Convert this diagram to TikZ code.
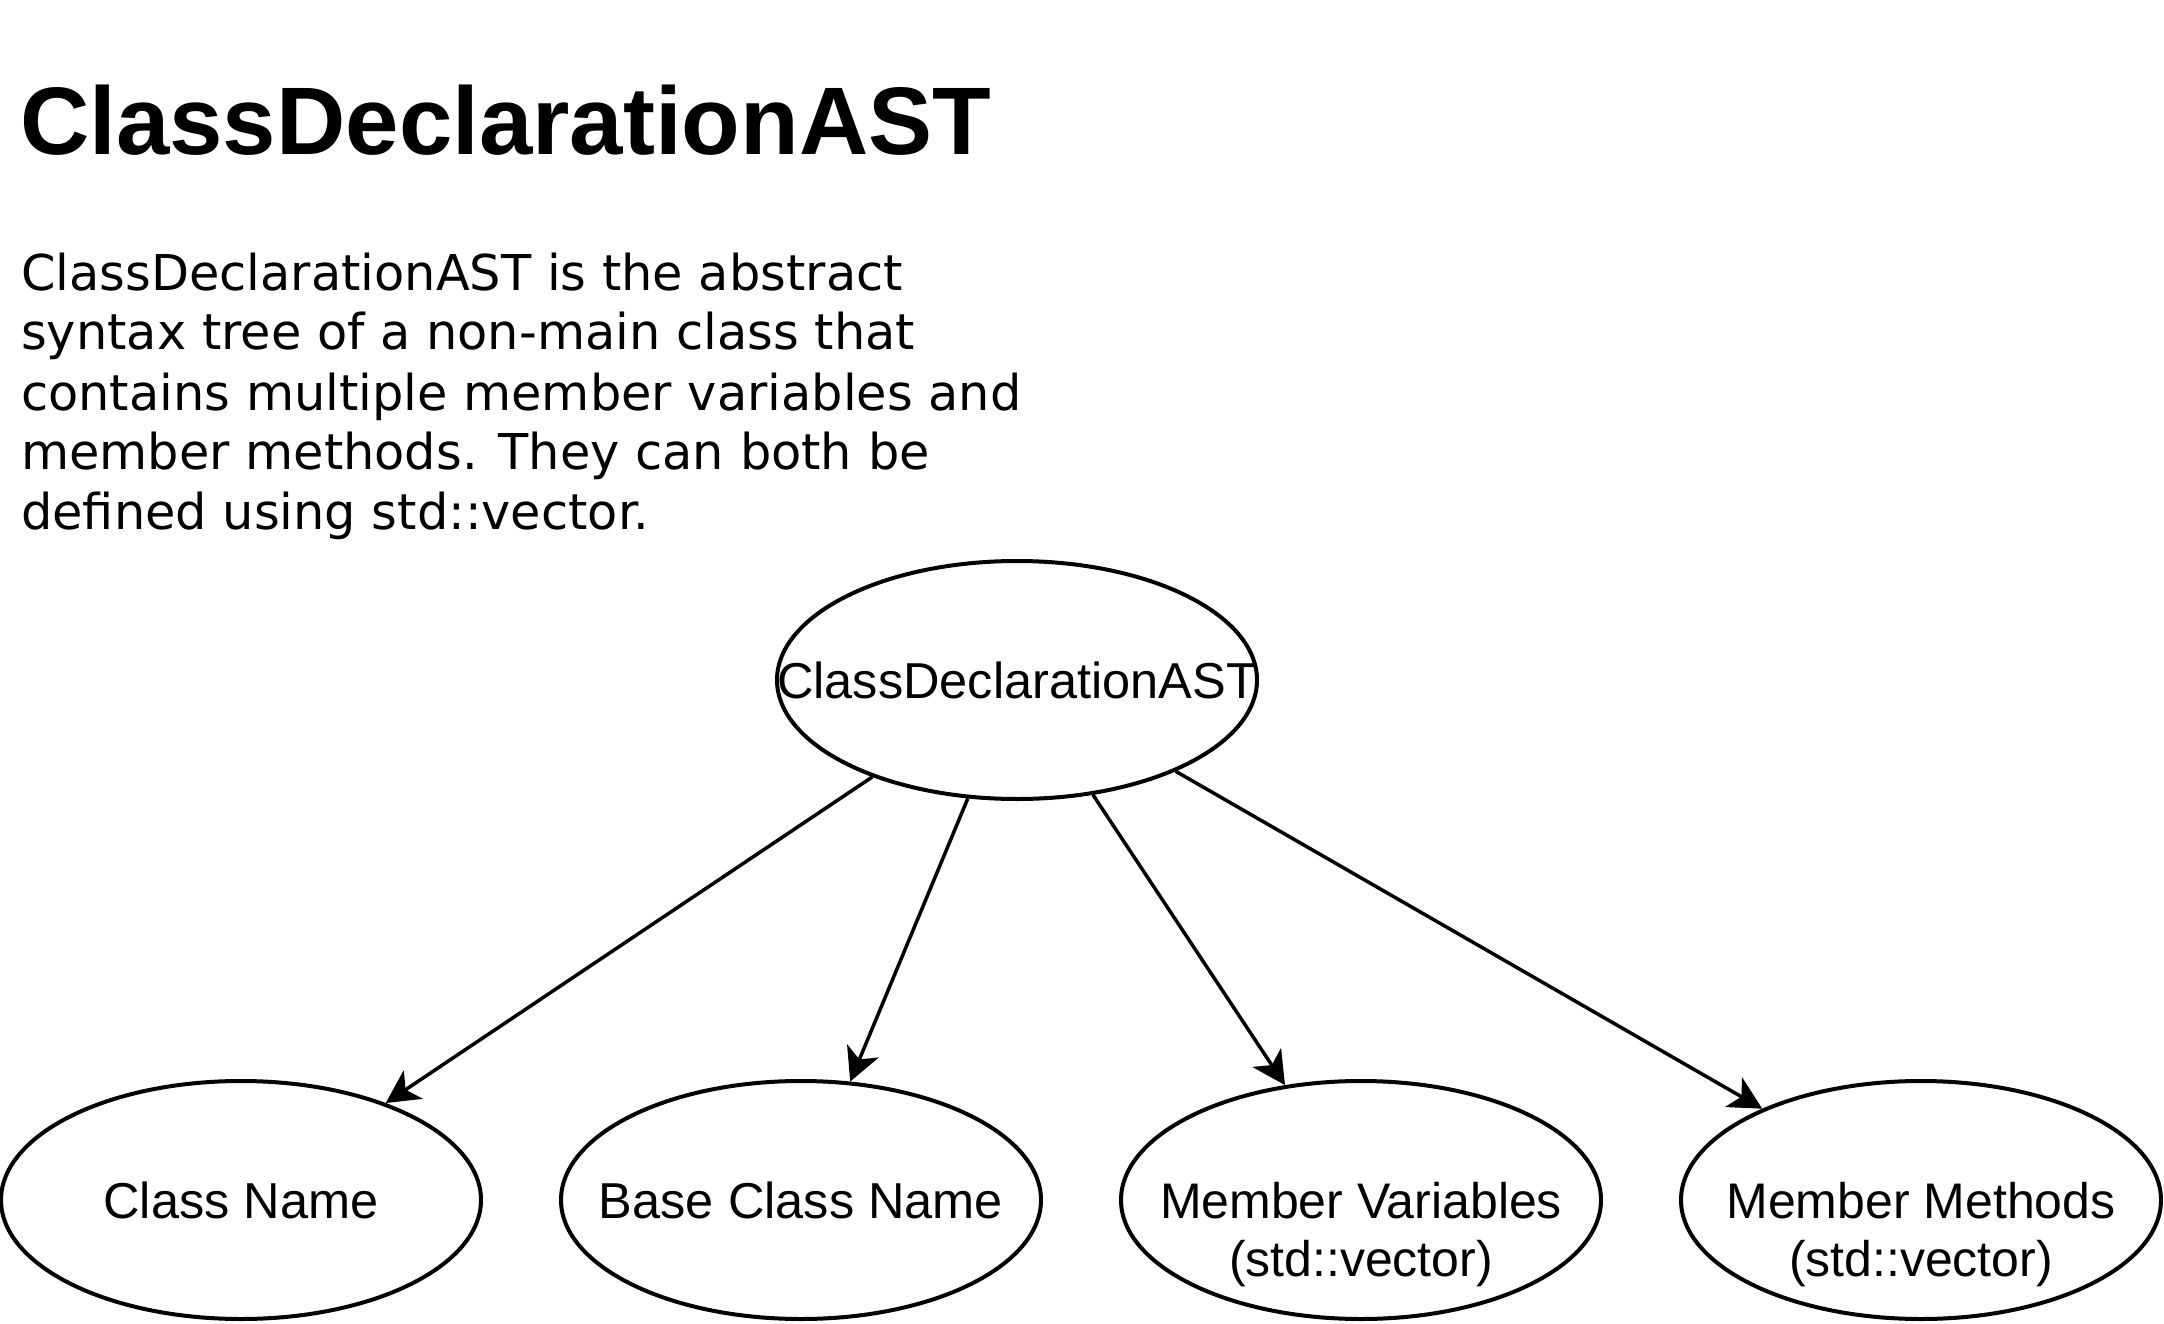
\documentclass[tikz,border=0pt]{standalone}
\usepackage{fontspec}
\setmainfont{Liberation Sans}
\newfontfamily\parafont{DejaVu Sans}
\usetikzlibrary{shapes.geometric,arrows.meta}
\begin{document}
\begin{tikzpicture}[x=1pt,y=-1pt,
  oval/.style={ellipse, draw=black, line width=4pt, minimum width=480pt, minimum height=238pt, inner sep=0pt, font=\fontsize{50.5}{58}\selectfont},
  lbl/.style={inner sep=0pt, align=center, font=\fontsize{50}{58}\selectfont},
  para/.style={anchor=base west, inner sep=0pt, font=\parafont\fontsize{49.4}{59}\selectfont},
  edge/.style={line width=3.5pt, -{Stealth[length=33pt,width=34pt,inset=9pt]}}]
\path[use as bounding box, fill=white] (0,0) rectangle (2164,1324);
\node[anchor=base west, inner sep=0pt, font=\bfseries\fontsize{96}{110}\selectfont] (title) at (20,155) {ClassDeclarationAST};
\node[para] (p1) at (21,291) {ClassDeclarationAST is the abstract};
\node[para] (p2) at (21,350) {syntax tree of a non-main class that};
\node[para] (p3) at (21,410) {contains multiple member variables and};
\node[para] (p4) at (21,469) {member methods. They can both be};
\node[para] (p5) at (21,529) {defined using std::vector.};
\node[oval] (root) at (1017,680) {\makebox[0pt]{ClassDeclarationAST}};
\node[oval] (cn) at (241,1200) {\makebox[0pt]{Class Name}};
\node[oval] (bcn) at (801,1200) {\makebox[0pt]{Base Class Name}};
\node[oval] (mv) at (1361,1200) {};
\node[oval] (mm) at (1921,1200) {};
\node[lbl, anchor=north] (mvt) at ([yshift=18pt]mv.center) {Member Variables\\(std::vector)};
\node[lbl, anchor=north] (mmt) at ([yshift=18pt]mm.center) {Member Methods\\(std::vector)};
\draw[edge] (root) -- (cn);
\draw[edge] (root) -- (bcn);
\draw[edge] (root) -- (mv);
\draw[edge] (root) -- (mm);
\end{tikzpicture}
\end{document}
